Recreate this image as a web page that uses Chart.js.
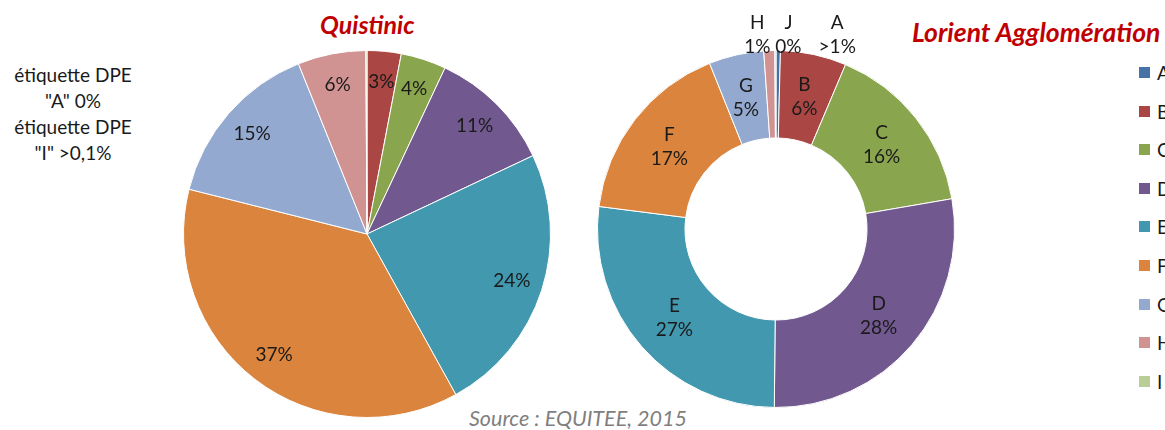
<!DOCTYPE html>
<html>
<head>
<meta charset="utf-8">
<script src="https://cdn.jsdelivr.net/npm/chart.js@4/dist/chart.umd.min.js"></script>
<style>
  body { margin: 0; width: 1165px; height: 430px; overflow: hidden; background: #fff; font-family: Lato, "Open Sans", sans-serif; position: relative; }
  canvas { position: absolute; }
  .title { position: absolute; color: #C00000; font-weight: bold; font-style: italic; white-space: nowrap; }
  .note { position: absolute; left: 0; top: 62px; width: 146px; text-align: center; font-size: 19px; line-height: 26px; color: #1a1a1a; }
  .source { position: absolute; left: 400px; top: 405px; width: 356px; text-align: center; font-style: italic; font-size: 21.5px; color: #7f7f7f; }
  .legend { position: absolute; left: 1139px; top: 61px; }
  .legend div { height: 38.6px; font-size: 19px; color: #1a1a1a; white-space: nowrap; display: flex; align-items: flex-start; }
  .legend span.box { width: 11px; height: 11px; margin: 6px 7px 0 0; display: inline-block; }
</style>
</head>
<body>
<div class="title" style="left:320px; top:9px; font-size:25px;">Quistinic</div>
<div class="title" style="left:912px; top:16px; font-size:26.5px;">Lorient Agglomération</div>
<div class="note">étiquette DPE<br>"A" 0%<br>étiquette DPE<br>"I" &gt;0,1%</div>
<div class="source">Source : EQUITEE, 2015</div>
<div class="legend" id="legend"></div>

<canvas id="pieQuistinic" width="368" height="368" style="left:183px; top:50px;"></canvas>
<canvas id="pieLorient" width="358" height="408" style="left:597px; top:0px;"></canvas>

<script>
// étiquettes DPE
const categories = ['A', 'B', 'C', 'D', 'E', 'F', 'G', 'H', 'I'];
const colors = ['#4572A7', '#AA4643', '#89A54E', '#71588F', '#4198AF', '#DB843D', '#93A9CF', '#D19392', '#B9CD96'];

// Quistinic (%)
const quistinicValues = [0, 3, 4, 11, 24, 37, 15, 6, 0.1];
// Lorient Agglomération (%)
const lorientValues = [0.4, 6, 16, 28, 27, 17, 5, 1, 0.1];
// libellés affichés sur l'anneau de Lorient
const lorientNames = ['A', 'B', 'C', 'D', 'E', 'F', 'G', 'H', 'J'];
const lorientPct = ['>1%', '6%', '16%', '28%', '27%', '17%', '5%', '1%', '0%'];

function pct(v) { return Math.round(v) + '%'; }

// dessine les libellés de chaque part
const sliceLabels = {
  id: 'sliceLabels',
  afterDatasetsDraw(chart, args, opts) {
    const ctx = chart.ctx;
    const meta = chart.getDatasetMeta(0);
    ctx.save();
    ctx.font = '19px Lato, "Open Sans", sans-serif';
    ctx.fillStyle = '#1a1a1a';
    ctx.textAlign = 'center';
    ctx.textBaseline = 'middle';
    meta.data.forEach((arc, i) => {
      const lines = opts.texts[i];
      if (!lines) return;
      const p = arc.getProps(['x', 'y', 'startAngle', 'endAngle', 'innerRadius', 'outerRadius'], true);
      const mid = (p.startAngle + p.endAngle) / 2;
      const lh = 24;
      if (opts.outside && opts.outside[i] !== undefined) {
        // petites parts : libellé au-dessus de l'anneau
        const x = p.x + Math.cos(mid) * p.outerRadius + opts.outside[i];
        const bottom = p.y - p.outerRadius - 4;
        lines.forEach((t, k) => ctx.fillText(t, x, bottom - (lines.length - 1 - k) * lh));
        return;
      }
      const r = p.innerRadius + (p.outerRadius - p.innerRadius) * opts.pos;
      const x = p.x + Math.cos(mid) * r;
      const y = p.y + Math.sin(mid) * r;
      lines.forEach((t, k) => ctx.fillText(t, x, y + (k - (lines.length - 1) / 2) * lh));
    });
    ctx.restore();
  }
};

new Chart(document.getElementById('pieQuistinic'), {
  type: 'pie',
  data: {
    labels: categories,
    datasets: [{
      data: quistinicValues,
      backgroundColor: colors,
      borderColor: '#ffffff',
      borderWidth: 1
    }]
  },
  options: {
    responsive: false,
    animation: false,
    plugins: {
      legend: { display: false },
      tooltip: { enabled: false },
      sliceLabels: {
        pos: 0.83,
        texts: quistinicValues.map(v => v >= 1 ? [pct(v)] : null)
      }
    }
  },
  plugins: [sliceLabels]
});

new Chart(document.getElementById('pieLorient'), {
  type: 'doughnut',
  data: {
    labels: categories,
    datasets: [{
      data: lorientValues,
      backgroundColor: colors,
      borderColor: '#ffffff',
      borderWidth: 1
    }]
  },
  options: {
    responsive: false,
    animation: false,
    cutout: '51%',
    layout: { padding: { top: 50 } },
    plugins: {
      legend: { display: false },
      tooltip: { enabled: false },
      sliceLabels: {
        pos: 0.5,
        texts: lorientNames.map((n, i) => [n, lorientPct[i]]),
        outside: { 0: 59, 7: -12, 8: 13 }
      }
    }
  },
  plugins: [sliceLabels]
});

// légende
const legend = document.getElementById('legend');
categories.forEach((c, i) => {
  const row = document.createElement('div');
  const box = document.createElement('span');
  box.className = 'box';
  box.style.background = colors[i];
  row.appendChild(box);
  row.appendChild(document.createTextNode(c));
  legend.appendChild(row);
});
</script>
</body>
</html>
